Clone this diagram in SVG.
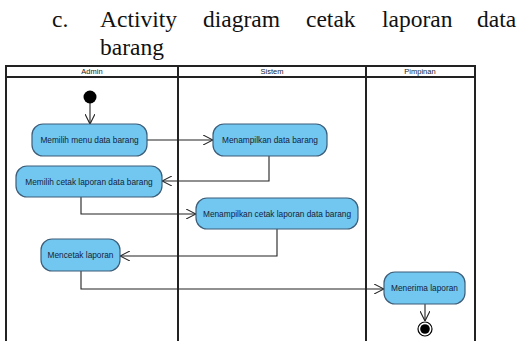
<svg xmlns="http://www.w3.org/2000/svg" width="525" height="341" viewBox="0 0 525 341">
<defs>
<style>
.cap{font-family:"Liberation Serif",serif;font-size:23.5px;fill:#111}
.lane{fill:none;stroke:#222;stroke-width:2}
.hd{font-family:"Liberation Sans",Arial,sans-serif;font-size:7.5px;fill:#222;text-anchor:middle}
.act rect{fill:#71c7ef;stroke:#3d5d78;stroke-width:1.2}
.act text{font-family:"Liberation Sans",Arial,sans-serif;font-size:8.3px;fill:#14233a;text-anchor:middle}
.con{fill:none;stroke:#222;stroke-width:1.1}
</style>
<marker id="ar" viewBox="0 0 10 10" refX="10" refY="5" markerWidth="10" markerHeight="10" markerUnits="userSpaceOnUse" orient="auto">
<path d="M0,0 L10,5 L0,10" fill="none" stroke="#222" stroke-width="1.1"/>
</marker>
</defs>
<rect width="525" height="341" fill="#fff"/>
<g id="caption">
<text class="cap" x="52" y="27">c.</text>
<text class="cap" x="100" y="27">Activity</text>
<text class="cap" x="203" y="27">diagram</text>
<text class="cap" x="306" y="27">cetak</text>
<text class="cap" x="382" y="27">laporan</text>
<text class="cap" x="477" y="27">data</text>
<text class="cap" x="100" y="55">barang</text>
</g>
<g id="swimlanes">
<rect class="lane" x="6" y="66" width="469" height="290"/>
<line class="lane" x1="6" y1="77" x2="475" y2="77"/>
<line class="lane" x1="178" y1="66" x2="178" y2="341"/>
<line class="lane" x1="366" y1="66" x2="366" y2="341"/>
<text class="hd" x="92" y="74">Admin</text>
<text class="hd" x="272" y="74">Sistem</text>
<text class="hd" x="420" y="74">Pimpinan</text>
</g>
<g id="connectors">
<path class="con" d="M90,103 V124" marker-end="url(#ar)"/>
<path class="con" d="M147,140 H213" marker-end="url(#ar)"/>
<path class="con" d="M269,156 V181 H162" marker-end="url(#ar)"/>
<path class="con" d="M81,197 V214 H196" marker-end="url(#ar)"/>
<path class="con" d="M277,229 V256 H120" marker-end="url(#ar)"/>
<path class="con" d="M81,271 V289 H384" marker-end="url(#ar)"/>
<path class="con" d="M425,304 V321" marker-end="url(#ar)"/>
</g>
<g id="start"><circle cx="90" cy="97" r="6.5" fill="#000"/></g>
<g id="a1" class="act"><rect x="32" y="124" width="115" height="32" rx="11"/><text x="89.5" y="143">Memilih menu data barang</text></g>
<g id="a2" class="act"><rect x="213" y="124" width="114" height="32" rx="11"/><text x="270" y="143">Menampilkan data barang</text></g>
<g id="a3" class="act"><rect x="16" y="166" width="146" height="31" rx="11"/><text x="89" y="184.5">Memilih cetak laporan data barang</text></g>
<g id="a4" class="act"><rect x="196" y="198" width="162" height="31" rx="11"/><text x="277" y="216.5">Menampilkan cetak laporan data barang</text></g>
<g id="a5" class="act"><rect x="41" y="239" width="79" height="32" rx="11"/><text x="80.5" y="258">Mencetak laporan</text></g>
<g id="a6" class="act"><rect x="384" y="272" width="81" height="32" rx="11"/><text x="424.5" y="291">Menerima laporan</text></g>
<g id="end"><circle cx="425" cy="329" r="7" fill="#fff" stroke="#000" stroke-width="1.2"/><circle cx="425" cy="329" r="4.8" fill="#000"/></g>
</svg>
